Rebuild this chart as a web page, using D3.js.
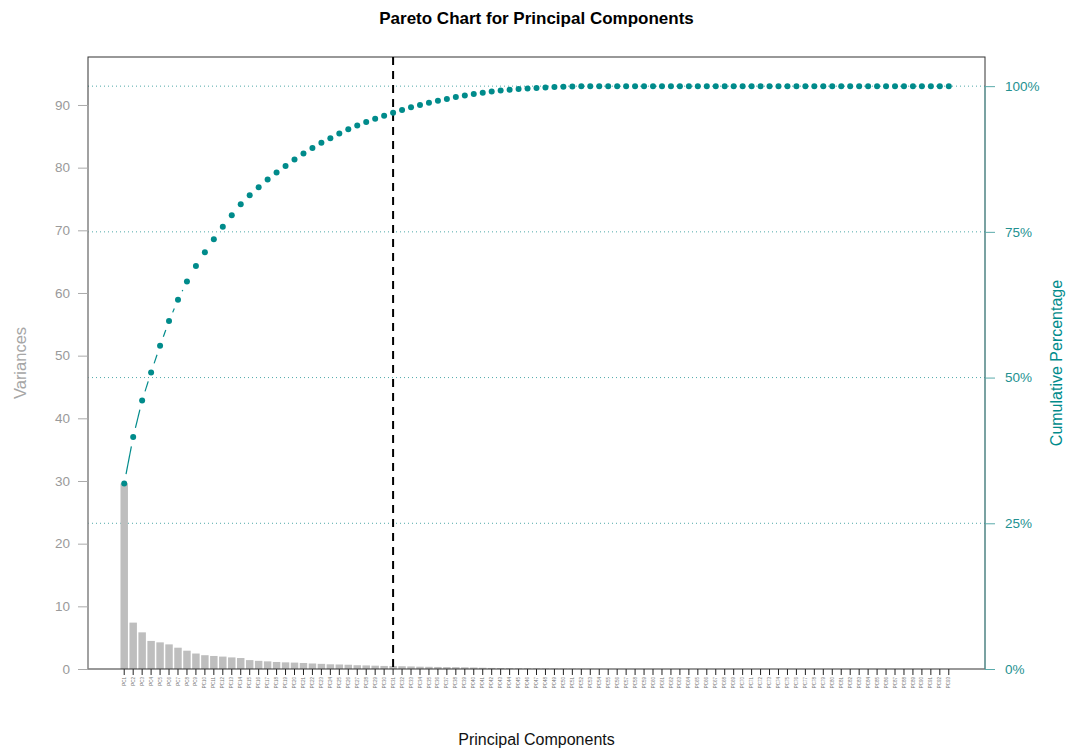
<!DOCTYPE html>
<html>
<head>
<meta charset="utf-8">
<script src="https://cdn.jsdelivr.net/npm/d3@7/dist/d3.min.js"></script>
<style>
  body { margin: 0; background: #fff; }
  svg { font-family: "Liberation Sans", Arial, Helvetica, sans-serif; }
</style>
</head>
<body>
<svg id="chart" width="1069" height="751"></svg>
<script>
var variances = [
  29.6, 7.4, 5.85, 4.48, 4.25, 3.93, 3.40, 2.92, 2.47, 2.20,
  2.08, 1.98, 1.85, 1.75, 1.42, 1.30, 1.22, 1.12, 1.06, 1.02,
  0.96, 0.88, 0.82, 0.75, 0.72, 0.68, 0.60, 0.57, 0.53, 0.49,
  0.47, 0.44, 0.41, 0.37, 0.35, 0.33, 0.30, 0.29, 0.27, 0.24,
  0.20, 0.17, 0.15, 0.13, 0.11, 0.10, 0.09, 0.07, 0.06, 0.05,
  0.04, 0.03, 0.02, 0.01, 0.005, 0, 0, 0, 0, 0,
  0, 0, 0, 0, 0, 0, 0, 0, 0, 0,
  0, 0, 0, 0, 0, 0, 0, 0, 0, 0,
  0, 0, 0, 0, 0, 0, 0, 0, 0, 0,
  0, 0, 0
];
var components = variances.map(function (d, i) { return "PC" + (i + 1); });
var leftTicks = [0, 10, 20, 30, 40, 50, 60, 70, 80, 90];
var pctTicks = [0, 0.25, 0.5, 0.75, 1];
var cutoffPC = "PC31";

var teal = "#008b8b";
var plot = { left: 88, right: 985, top: 57, bottom: 669 };

var svg = d3.select("#chart");
var total = d3.sum(variances);
var cumulative = Array.from(d3.cumsum(variances)); // Float64Array -> plain array

var x = d3.scaleBand()
  .domain(components)
  .range([116, 957])
  .paddingInner(0.2 / 1.2)
  .paddingOuter(0.5);

var y = d3.scaleLinear()
  .domain([0, total * 1.05])
  .range([plot.bottom, plot.top]);

function cx(d) { return x(d) + x.bandwidth() / 2; }

// dotted cumulative gridlines
svg.append("g")
  .selectAll("line")
  .data(pctTicks.slice(1))
  .enter()
  .append("line")
  .attr("x1", plot.left)
  .attr("x2", plot.right)
  .attr("y1", function (d) { return y(d * total); })
  .attr("y2", function (d) { return y(d * total); })
  .attr("stroke", "#4fa9a9")
  .attr("stroke-width", 1)
  .attr("stroke-dasharray", "1,3");

// bars
svg.append("g")
  .selectAll("rect")
  .data(variances)
  .enter()
  .append("rect")
  .attr("x", function (d, i) { return x(components[i]); })
  .attr("width", x.bandwidth())
  .attr("y", function (d) { return y(d); })
  .attr("height", function (d) { return y(0) - y(d); })
  .attr("fill", "#bebebe");

// plot box
svg.append("rect")
  .attr("x", plot.left)
  .attr("y", plot.top)
  .attr("width", plot.right - plot.left)
  .attr("height", plot.bottom - plot.top)
  .attr("fill", "none")
  .attr("stroke", "#333")
  .attr("stroke-width", 1);

// left axis (grey)
var leftAxis = svg.append("g")
  .attr("transform", "translate(" + plot.left + ",0)")
  .call(d3.axisLeft(y).tickValues(leftTicks).tickSize(10).tickPadding(8).tickSizeOuter(0));
leftAxis.select(".domain")
  .attr("d", "M0," + y(0) + "V" + y(90))
  .attr("stroke", "#aaa");
leftAxis.selectAll(".tick line").attr("stroke", "#aaa");
leftAxis.selectAll(".tick text")
  .attr("fill", "#9a9a9a")
  .style("font-size", "13.5px")
  .style("font-family", "\"Liberation Sans\", Arial, sans-serif");

// right axis (teal, percentages)
var rightAxis = svg.append("g")
  .attr("transform", "translate(" + plot.right + ",0)")
  .call(d3.axisRight(y)
    .tickValues(pctTicks.map(function (p) { return p * total; }))
    .tickFormat(function (v) { return Math.round(v / total * 100) + "%"; })
    .tickSize(10).tickPadding(10).tickSizeOuter(0));
rightAxis.select(".domain")
  .attr("d", "M0," + y(0) + "V" + y(total))
  .attr("stroke", "#5aabab");
rightAxis.selectAll(".tick line").attr("stroke", "#5aabab");
rightAxis.selectAll(".tick text")
  .attr("fill", "#239191")
  .style("font-size", "13.5px")
  .style("font-family", "\"Liberation Sans\", Arial, sans-serif");

// x axis ticks + tiny vertical labels
var xAxis = svg.append("g")
  .attr("transform", "translate(0," + plot.bottom + ")")
  .call(d3.axisBottom(x).tickSize(6).tickSizeOuter(0));
xAxis.select(".domain").remove();
xAxis.selectAll(".tick line").attr("stroke", "#222");
xAxis.selectAll(".tick text")
  .attr("transform", "rotate(-90)")
  .attr("x", -8)
  .attr("y", 0)
  .attr("dy", "0.35em")
  .attr("text-anchor", "end")
  .attr("fill", "#777")
  .style("font-size", "4.5px");

// cut-off line
svg.append("line")
  .attr("x1", cx(cutoffPC))
  .attr("x2", cx(cutoffPC))
  .attr("y1", plot.top)
  .attr("y2", plot.bottom)
  .attr("stroke", "#000")
  .attr("stroke-width", 2)
  .attr("stroke-dasharray", "8,6");

// cumulative line: segments with gaps around the points
var pts = cumulative.map(function (c, i) { return [cx(components[i]), y(c)]; });
var gap = 9.5;
var segs = [];
for (var i = 1; i < pts.length; i++) {
  var a = pts[i - 1], b = pts[i];
  var dx = b[0] - a[0], dy = b[1] - a[1];
  var len = Math.sqrt(dx * dx + dy * dy);
  if (len > 2 * gap) {
    segs.push([a[0] + dx * gap / len, a[1] + dy * gap / len,
               b[0] - dx * gap / len, b[1] - dy * gap / len]);
  }
}
svg.append("g")
  .selectAll("line")
  .data(segs)
  .enter()
  .append("line")
  .attr("x1", function (d) { return d[0]; })
  .attr("y1", function (d) { return d[1]; })
  .attr("x2", function (d) { return d[2]; })
  .attr("y2", function (d) { return d[3]; })
  .attr("stroke", teal)
  .attr("stroke-width", 1.2);

svg.append("g")
  .selectAll("circle")
  .data(pts)
  .enter()
  .append("circle")
  .attr("cx", function (d) { return d[0]; })
  .attr("cy", function (d) { return d[1]; })
  .attr("r", 3)
  .attr("fill", teal);

// titles
svg.append("text")
  .attr("x", (plot.left + plot.right) / 2)
  .attr("y", 24)
  .attr("text-anchor", "middle")
  .style("font-size", "17px")
  .style("font-weight", "bold")
  .text("Pareto Chart for Principal Components");

svg.append("text")
  .attr("x", (plot.left + plot.right) / 2)
  .attr("y", 745)
  .attr("text-anchor", "middle")
  .style("font-size", "16px")
  .attr("fill", "#111")
  .text("Principal Components");

svg.append("text")
  .attr("transform", "translate(26," + (plot.top + plot.bottom) / 2 + ") rotate(-90)")
  .attr("text-anchor", "middle")
  .style("font-size", "16.5px")
  .attr("fill", "#a6a6a6")
  .text("Variances");

svg.append("text")
  .attr("transform", "translate(1062," + (plot.top + plot.bottom) / 2 + ") rotate(-90)")
  .attr("text-anchor", "middle")
  .style("font-size", "16px")
  .attr("fill", teal)
  .text("Cumulative Percentage");
</script>
</body>
</html>
